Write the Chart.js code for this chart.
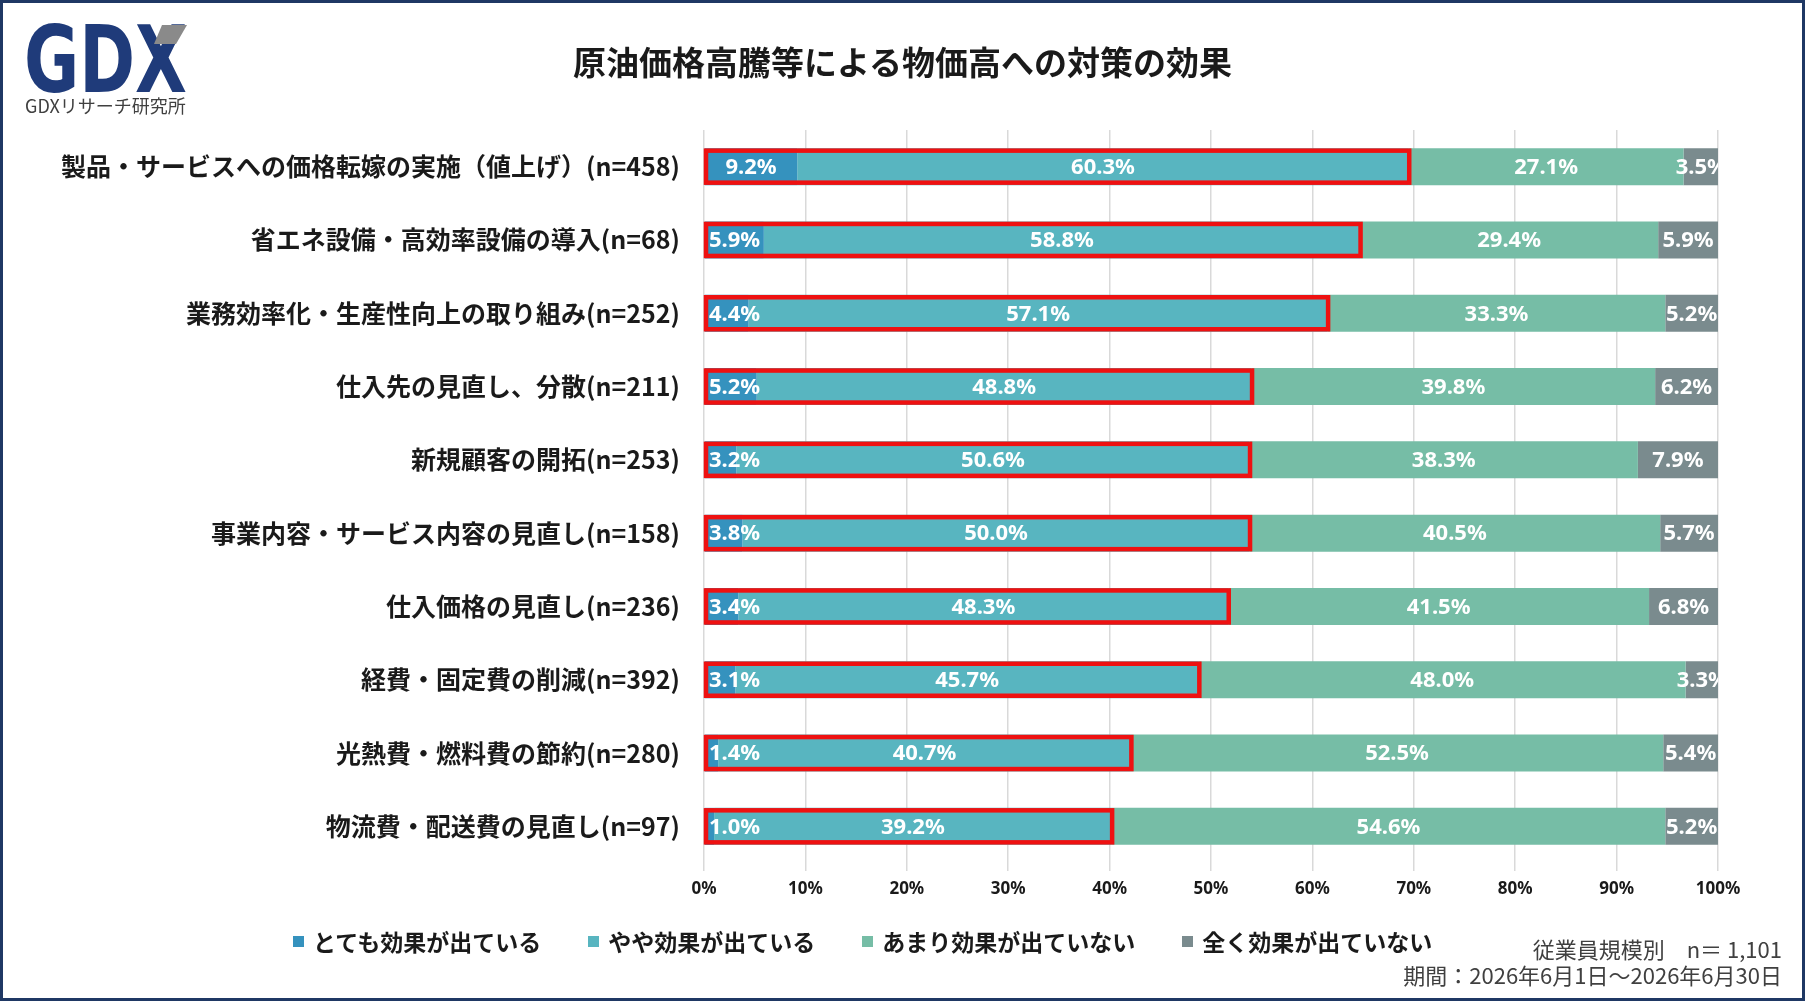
<!DOCTYPE html>
<html lang="ja">
<head>
<meta charset="utf-8">
<script src="https://cdn.jsdelivr.net/npm/chart.js@4.4.1/dist/chart.umd.min.js"></script>
<style>
  html, body { margin:0; padding:0; background:#fff; overflow:hidden; }
  #wrap { position:relative; width:1805px; height:1001px; background:#fff; }
  #frame { position:absolute; left:0; top:0; width:1805px; height:1001px; box-sizing:border-box; border:3px solid #1f3864; pointer-events:none; z-index:5; }
  #cv { position:absolute; left:0; top:0; width:1805px; height:1001px; }
  .jp { font-family:"Noto Sans CJK JP","Noto Sans",sans-serif; }
  #title { position:absolute; left:0; width:1805px; top:37px; text-align:center; font-weight:700; font-size:33px; color:#1a1a1a; }
  #logo { position:absolute; left:22px; top:22px; }
  #logotext { position:absolute; left:25px; top:92px; font-size:18px; color:#404040; letter-spacing:0px; }
  #legend { position:absolute; left:293px; top:924px; display:flex; align-items:center; }
  .li { display:flex; align-items:center; margin-right:47px; font-weight:700; font-size:23px; color:#1a1a1a; }
  .sw { width:11px; height:11px; margin-right:9px; display:inline-block; }
  .note { position:absolute; right:23px; font-size:22px; color:#404040; text-align:right; white-space:nowrap; }
</style>
</head>
<body>
<div id="wrap">
  <canvas id="cv" width="1805" height="1001"></canvas>
  <svg id="logo" width="175" height="75" viewBox="0 0 175 75">
    <text x="2" y="70" font-family="DejaVu Sans" font-weight="bold" font-size="92" fill="#1f3b7a" textLength="163" lengthAdjust="spacingAndGlyphs">GDX</text>
    <polygon points="140,3 165,3 154,22 132,22" fill="#8a8a8a"/>
  </svg>
  <div id="logotext" class="jp">GDXリサーチ研究所</div>
  <div id="title" class="jp">原油価格高騰等による物価高への対策の効果</div>
  <div id="legend" class="jp"></div>
  <div class="note jp" style="top:932px;">従業員規模別　n＝ 1,101</div>
  <div class="note jp" style="top:958px;">期間：2026年6月1日～2026年6月30日</div>
  <div id="frame"></div>
</div>
<script>
const categories = [
  "製品・サービスへの価格転嫁の実施（値上げ）(n=458)",
  "省エネ設備・高効率設備の導入(n=68)",
  "業務効率化・生産性向上の取り組み(n=252)",
  "仕入先の見直し、分散(n=211)",
  "新規顧客の開拓(n=253)",
  "事業内容・サービス内容の見直し(n=158)",
  "仕入価格の見直し(n=236)",
  "経費・固定費の削減(n=392)",
  "光熱費・燃料費の節約(n=280)",
  "物流費・配送費の見直し(n=97)"
];
const seriesNames = ["とても効果が出ている", "やや効果が出ている", "あまり効果が出ていない", "全く効果が出ていない"];
const veryEffective   = [9.2, 5.9, 4.4, 5.2, 3.2, 3.8, 3.4, 3.1, 1.4, 1.0];
const someEffective   = [60.3, 58.8, 57.1, 48.8, 50.6, 50.0, 48.3, 45.7, 40.7, 39.2];
const littleEffective = [27.1, 29.4, 33.3, 39.8, 38.3, 40.5, 41.5, 48.0, 52.5, 54.6];
const noEffect        = [3.5, 5.9, 5.2, 6.2, 7.9, 5.7, 6.8, 3.3, 5.4, 5.2];
const seriesColors = ["#3592be", "#58b5c0", "#76bda6", "#7a8b8e"];
const xTicks = [0,10,20,30,40,50,60,70,80,90,100];

const seriesData = [veryEffective, someEffective, littleEffective, noEffect];

// HTML legend from series arrays
const legendEl = document.getElementById('legend');
seriesNames.forEach((n, i) => {
  const d = document.createElement('div'); d.className = 'li';
  d.innerHTML = '<span class="sw" style="background:' + seriesColors[i] + '"></span>' + n;
  legendEl.appendChild(d);
});

const overlayPlugin = {
  id: 'overlay',
  afterDatasetsDraw(chart) {
    const ctx = chart.ctx;
    const xs = chart.scales.x;
    const area = chart.chartArea;
    // red outline around the "effective" portion (series 0 + 1)
    const m0 = chart.getDatasetMeta(0);
    ctx.save();
    ctx.strokeStyle = '#ee1111';
    ctx.lineWidth = 4.5;
    m0.data.forEach((bar, i) => {
      const x0 = xs.getPixelForValue(0);
      const x1 = xs.getPixelForValue(veryEffective[i] + someEffective[i]);
      const top = bar.y - bar.height / 2;
      ctx.strokeRect(x0 + 2, top + 2.5, x1 - x0 - 1.5, bar.height - 5);
    });
    ctx.restore();
    // data labels
    ctx.save();
    ctx.beginPath();
    ctx.rect(area.left, area.top, area.right - area.left, area.bottom - area.top);
    ctx.clip();
    ctx.font = 'bold 22px "Noto Sans", sans-serif';
    ctx.fillStyle = '#ffffff';
    ctx.textBaseline = 'middle';
    ctx.textAlign = 'left';
    chart.data.datasets.forEach((ds, di) => {
      const meta = chart.getDatasetMeta(di);
      meta.data.forEach((bar, i) => {
        const v = ds.data[i];
        const txt = v.toFixed(1) + '%';
        const w = ctx.measureText(txt).width;
        const left = Math.min(bar.x, bar.base);
        const right = Math.max(bar.x, bar.base);
        let cx = (left + right) / 2;
        let lx = cx - w / 2;
        if (lx < area.left + 5) lx = area.left + 5;
        ctx.fillText(txt, lx, bar.y + 1);
      });
    });
    ctx.restore();
  }
};

new Chart(document.getElementById('cv'), {
  type: 'bar',
  data: {
    labels: categories,
    datasets: seriesNames.map((n, i) => ({
      label: n,
      data: seriesData[i],
      backgroundColor: seriesColors[i],
      borderWidth: 0,
      barPercentage: 0.505,
      categoryPercentage: 1.0
    }))
  },
  options: {
    indexAxis: 'y',
    responsive: false,
    animation: false,
    devicePixelRatio: 1,
    layout: { padding: { left: 0, right: 87, top: 130, bottom: 98 } },
    plugins: { legend: { display: false }, tooltip: { enabled: false }, title: { display: false } },
    scales: {
      x: {
        stacked: true, min: 0, max: 100,
        afterBuildTicks(scale) { scale.ticks = xTicks.map(v => ({ value: v })); },
        afterFit(scale) { scale.height = 40; },
        grid: { color: '#d9d9d9', lineWidth: 1.5, drawTicks: true, tickLength: 8 },
        border: { display: false },
        ticks: {
          padding: 8,
          color: '#1a1a1a',
          font: { family: '"Noto Sans", sans-serif', size: 17, weight: 'bold' },
          callback: (v) => v + '%'
        }
      },
      y: {
        stacked: true,
        afterFit(scale) { scale.width = 704; },
        grid: { display: false },
        border: { display: false },
        ticks: {
          padding: 16,
          color: '#1a1a1a',
          font: { family: '"Noto Sans CJK JP", sans-serif', size: 25, weight: 'bold' }
        }
      }
    }
  },
  plugins: [overlayPlugin]
});
</script>
</body>
</html>
